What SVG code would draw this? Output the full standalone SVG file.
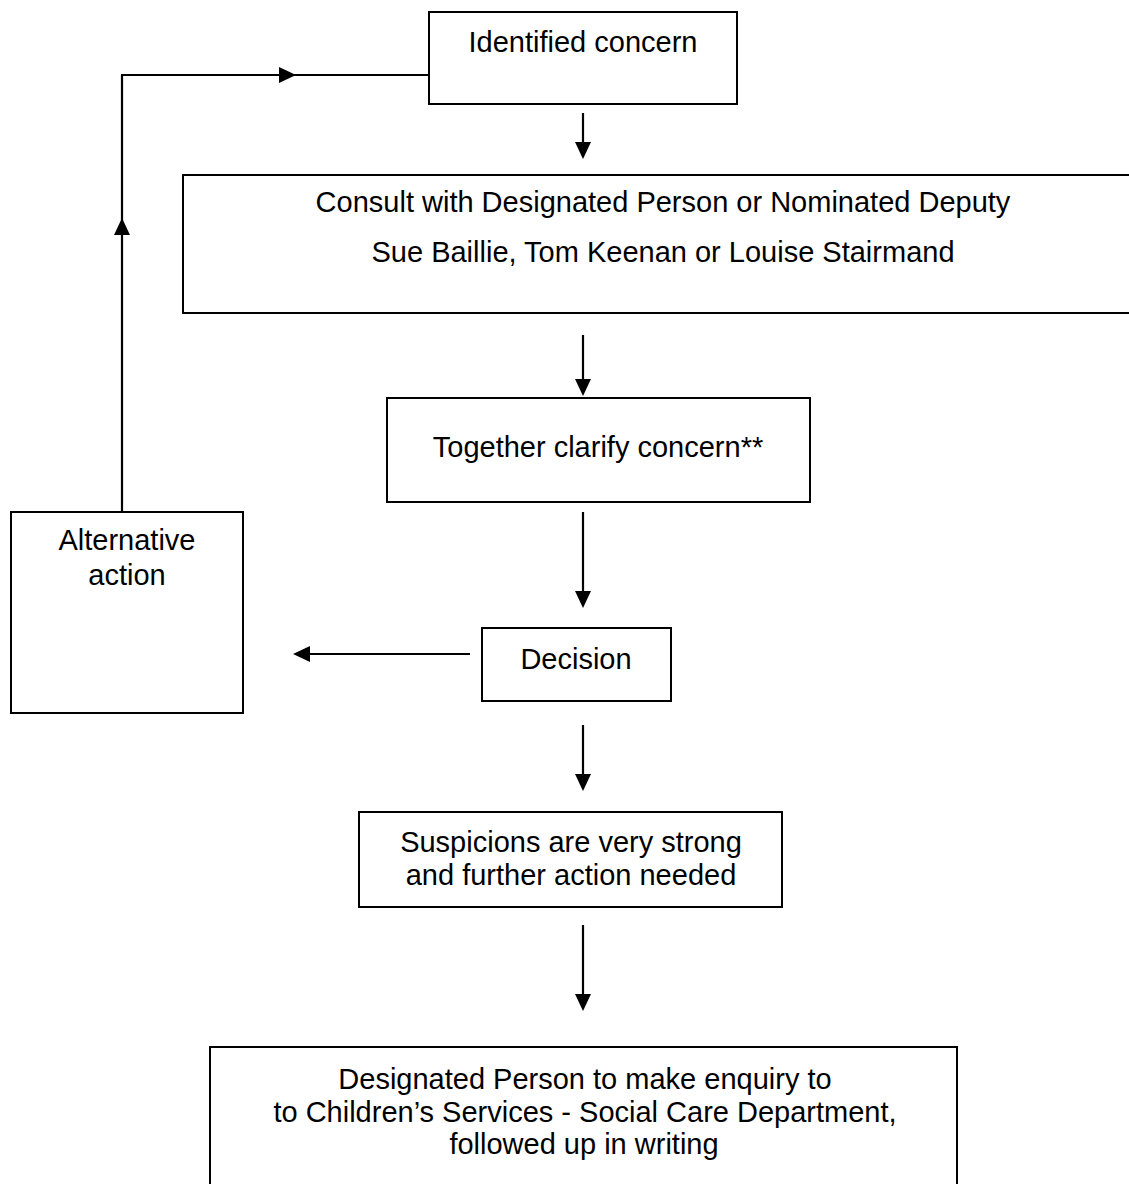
<svg xmlns="http://www.w3.org/2000/svg" width="1129" height="1184" viewBox="0 0 1129 1184">
<style>
.box{fill:#fff;stroke:#000;stroke-width:2}
.t{font-family:"Liberation Sans",Arial,sans-serif;font-size:29px;fill:#000;text-anchor:middle}
.ln{stroke:#000;stroke-width:2.2;fill:none}
.ah{fill:#000}
</style>
<rect width="1129" height="1184" fill="#fff"/>
<g id="connectors">
  <line class="ln" x1="122" y1="512" x2="122" y2="75"/>
  <polygon class="ah" points="122,218 114,235 130,235"/>
  <line class="ln" x1="121" y1="75" x2="429" y2="75"/>
  <polygon class="ah" points="296,75 279,67 279,83"/>
  <line class="ln" x1="583" y1="113" x2="583" y2="145"/>
  <polygon class="ah" points="583,159 575,142 591,142"/>
  <line class="ln" x1="583" y1="335" x2="583" y2="382"/>
  <polygon class="ah" points="583,396 575,379 591,379"/>
  <line class="ln" x1="583" y1="512" x2="583" y2="594"/>
  <polygon class="ah" points="583,608 575,591 591,591"/>
  <line class="ln" x1="470" y1="654" x2="306" y2="654"/>
  <polygon class="ah" points="293,654 310,646 310,662"/>
  <line class="ln" x1="583" y1="725" x2="583" y2="777"/>
  <polygon class="ah" points="583,791 575,774 591,774"/>
  <line class="ln" x1="583" y1="925" x2="583" y2="997"/>
  <polygon class="ah" points="583,1011 575,994 591,994"/>
</g>
<g id="identified">
  <rect class="box" x="429" y="12" width="308" height="92"/>
  <text class="t" x="583" y="52">Identified concern</text>
</g>
<g id="consult">
  <rect class="box" x="183" y="175" width="960" height="138"/>
  <text class="t" x="663" y="212">Consult with Designated Person or Nominated Deputy</text>
  <text class="t" x="663" y="262">Sue Baillie, Tom Keenan or Louise Stairmand</text>
</g>
<g id="clarify">
  <rect class="box" x="387" y="398" width="423" height="104"/>
  <text class="t" x="598" y="457">Together clarify concern**</text>
</g>
<g id="alternative">
  <rect class="box" x="11" y="512" width="232" height="201"/>
  <text class="t" x="127" y="550">Alternative</text>
  <text class="t" x="127" y="585">action</text>
</g>
<g id="decision">
  <rect class="box" x="482" y="628" width="189" height="73"/>
  <text class="t" x="576" y="669">Decision</text>
</g>
<g id="suspicions">
  <rect class="box" x="359" y="812" width="423" height="95"/>
  <text class="t" x="571" y="852">Suspicions are very strong</text>
  <text class="t" x="571" y="885">and further action needed</text>
</g>
<g id="enquiry">
  <rect class="box" x="210" y="1047" width="747" height="160"/>
  <text class="t" x="585" y="1089">Designated Person to make enquiry to</text>
  <text class="t" x="585" y="1122">to Children’s Services - Social Care Department,</text>
  <text class="t" x="584" y="1154">followed up in writing</text>
</g>
</svg>
